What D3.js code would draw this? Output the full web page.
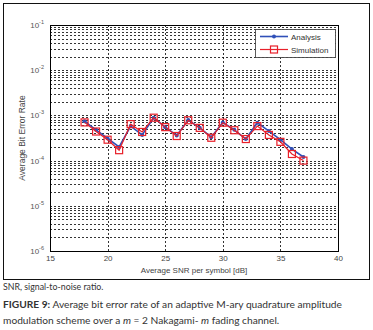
<!DOCTYPE html>
<html>
<head>
<meta charset="utf-8">
<script src="https://cdn.jsdelivr.net/npm/d3@7"></script>
<style>
  body { margin: 0; background: #fff; }
  svg { display: block; }
</style>
</head>
<body>
<svg id="drawing_region"></svg>
<script>
// SNR values (dB)
const snr = [18, 19, 20, 21, 22, 23, 24, 25, 26, 27, 28, 29, 30, 31, 32, 33, 34, 35, 36, 37];
const analysis = [7.4e-4, 4.8e-4, 3.1e-4, 2.0e-4, 5.8e-4, 3.7e-4, 8.9e-4, 5.5e-4, 3.6e-4, 7.9e-4, 5.3e-4, 3.3e-4, 7.0e-4, 4.8e-4, 3.0e-4, 6.9e-4, 4.5e-4, 2.9e-4, 1.8e-4, 1.2e-4];
const simulation = [7.0e-4, 4.4e-4, 2.9e-4, 1.7e-4, 6.4e-4, 4.3e-4, 8.9e-4, 5.5e-4, 3.5e-4, 7.8e-4, 5.3e-4, 3.2e-4, 6.9e-4, 4.7e-4, 3.0e-4, 5.8e-4, 3.7e-4, 2.6e-4, 1.4e-4, 1.0e-4];
const xticks = [15, 20, 25, 30, 35, 40];
const yexps = [-1, -2, -3, -4, -5, -6];

const W = 373, H = 330;
const margin = {top: 25, right: 35, bottom: 79, left: 50};
const iw = W - margin.left - margin.right;
const ih = H - margin.top - margin.bottom;

const svg = d3.select('#drawing_region')
    .attr('width', W)
    .attr('height', H);

// outer frame around the figure
svg.append('rect')
    .attr('x', 3.5).attr('y', 3.5)
    .attr('width', 366).attr('height', 276)
    .attr('fill', 'none').attr('stroke', '#111').attr('stroke-width', 1);

const chart = svg.append('g')
    .attr('transform', `translate(${margin.left}, ${margin.top})`);

const xscale = d3.scaleLinear().domain([15, 40]).range([0, iw]);
const yscale = d3.scaleLog().domain([1e-6, 1e-1]).range([ih, 0]);

// grid
const minor = [];
for (let e = -6; e < -1; e++) {
    for (let m = 1; m <= 9; m++) minor.push(m * Math.pow(10, e));
}
chart.append('g').selectAll('line.hg')
    .data(minor.filter(v => v > 1e-6 && v < 1e-1))
    .enter().append('line')
    .attr('x1', 0).attr('x2', iw)
    .attr('y1', d => Math.round(yscale(d)) + 0.5)
    .attr('y2', d => Math.round(yscale(d)) + 0.5)
    .attr('stroke', '#000').attr('stroke-width', 0.8)
    .attr('stroke-dasharray', '2,2');

chart.append('g').selectAll('line.vg')
    .data(xticks.slice(1, -1))
    .enter().append('line')
    .attr('y1', 0).attr('y2', ih)
    .attr('x1', d => Math.round(xscale(d)) + 0.5)
    .attr('x2', d => Math.round(xscale(d)) + 0.5)
    .attr('stroke', '#000').attr('stroke-width', 0.8)
    .attr('stroke-dasharray', '2,2');

// plot frame
chart.append('rect')
    .attr('x', 0.5).attr('y', 0.5)
    .attr('width', iw).attr('height', ih)
    .attr('fill', 'none').attr('stroke', '#000').attr('stroke-width', 1);

// axes labels
const xaxis = d3.axisBottom(xscale).tickValues(xticks).tickSize(0).tickPadding(4);
const xg = chart.append('g')
    .attr('transform', `translate(0, ${ih})`)
    .call(xaxis);
xg.select('.domain').remove();
xg.selectAll('text')
    .attr('font-family', 'Liberation Sans, Arial, sans-serif')
    .attr('font-size', 8).attr('fill', '#444');

const ylab = chart.append('g').selectAll('text')
    .data(yexps).enter().append('text')
    .attr('x', -6)
    .attr('y', d => yscale(Math.pow(10, d)) + 3)
    .attr('text-anchor', 'end')
    .attr('font-family', 'Liberation Sans, Arial, sans-serif')
    .attr('font-size', 8).attr('fill', '#555');
ylab.append('tspan').text('10');
ylab.append('tspan').attr('dy', -4).attr('font-size', 5.5).text(d => d);

chart.append('text')
    .attr('x', iw / 2).attr('y', ih + 22)
    .attr('text-anchor', 'middle')
    .attr('font-family', 'Liberation Sans, Arial, sans-serif')
    .attr('font-size', 8).attr('fill', '#444')
    .text('Average SNR per symbol [dB]');

chart.append('text')
    .attr('transform', `translate(-25, ${ih / 2}) rotate(-90)`)
    .attr('text-anchor', 'middle')
    .attr('font-family', 'Liberation Sans, Arial, sans-serif')
    .attr('font-size', 8.5).attr('fill', '#444')
    .text('Average Bit Error Rate');

// series
const line = d3.line()
    .x(d => xscale(d[0]))
    .y(d => yscale(d[1]));

const blue = '#3050b8', red = '#e8202a';
const aData = snr.map((s, i) => [s, analysis[i]]);
const sData = snr.map((s, i) => [s, simulation[i]]);

chart.append('path').datum(aData)
    .attr('d', line).attr('fill', 'none')
    .attr('stroke', blue).attr('stroke-width', 1.6);
chart.append('g').selectAll('circle')
    .data(aData).enter().append('circle')
    .attr('cx', d => xscale(d[0])).attr('cy', d => yscale(d[1]))
    .attr('r', 2).attr('fill', blue);

chart.append('path').datum(sData)
    .attr('d', line).attr('fill', 'none')
    .attr('stroke', red).attr('stroke-width', 1.2);
chart.append('g').selectAll('rect.sq')
    .data(sData).enter().append('rect')
    .attr('x', d => xscale(d[0]) - 3.5).attr('y', d => yscale(d[1]) - 3.5)
    .attr('width', 7).attr('height', 7)
    .attr('fill', 'none').attr('stroke', red).attr('stroke-width', 1.2);

// legend
const lg = chart.append('g').attr('transform', `translate(${iw - 83}, 4)`);
lg.append('rect')
    .attr('x', 0.5).attr('y', 0.5).attr('width', 80).attr('height', 28)
    .attr('fill', '#fff').attr('stroke', '#333').attr('stroke-width', 0.8);
lg.append('line').attr('x1', 5).attr('x2', 33).attr('y1', 7.5).attr('y2', 7.5)
    .attr('stroke', blue).attr('stroke-width', 1.6);
lg.append('circle').attr('cx', 19).attr('cy', 7.5).attr('r', 2).attr('fill', blue);
lg.append('line').attr('x1', 5).attr('x2', 33).attr('y1', 20.5).attr('y2', 20.5)
    .attr('stroke', red).attr('stroke-width', 1.2);
lg.append('rect').attr('x', 15.5).attr('y', 17).attr('width', 7).attr('height', 7)
    .attr('fill', 'none').attr('stroke', red).attr('stroke-width', 1.2);
lg.selectAll('text.lt')
    .data(['Analysis', 'Simulation']).enter().append('text')
    .attr('x', 36).attr('y', (d, i) => 10.5 + i * 13)
    .attr('font-family', 'Liberation Sans, Arial, sans-serif')
    .attr('font-size', 8).attr('fill', '#333')
    .text(d => d);

// captions
svg.append('text')
    .attr('x', 3).attr('y', 290)
    .attr('font-family', 'Lato, Open Sans, sans-serif')
    .attr('font-size', 8.8).attr('fill', '#333')
    .text('SNR, signal-to-noise ratio.');

const cap = svg.append('g')
    .attr('font-family', 'Lato, Open Sans, sans-serif')
    .attr('font-size', 10.2).attr('fill', '#333');
const c1 = cap.append('text').attr('x', 3).attr('y', 308);
c1.append('tspan').attr('font-weight', 'bold').text('FIGURE 9:');
c1.append('tspan').text(' Average bit error rate of an adaptive M-ary quadrature amplitude');
const c2 = cap.append('text').attr('x', 3).attr('y', 324);
c2.append('tspan').text('modulation scheme over a ');
c2.append('tspan').attr('font-style', 'italic').text('m');
c2.append('tspan').text(' = 2 Nakagami- ');
c2.append('tspan').attr('font-style', 'italic').text('m');
c2.append('tspan').text(' fading channel.');
</script>
</body>
</html>
